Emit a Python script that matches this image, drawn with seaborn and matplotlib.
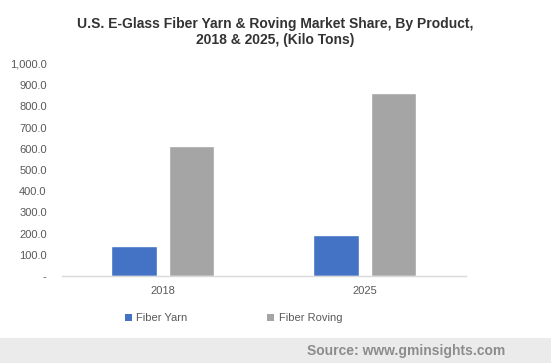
import pandas as pd
import matplotlib.pyplot as plt
import seaborn as sns
from matplotlib.patches import Patch, Rectangle

# values (kilo tons)
years = ['2018', '2025']
products = ['Fiber Yarn', 'Fiber Roving']
fiber_yarn = [140, 193]
fiber_roving = [613, 865]
colors = ['#4472C4', '#A5A5A5']

df = pd.DataFrame({
    'year': years * 2,
    'product': [products[0]] * 2 + [products[1]] * 2,
    'value': fiber_yarn + fiber_roving,
})

sns.set_style('white')
plt.rcParams['font.family'] = ['Liberation Sans', 'DejaVu Sans']

fig = plt.figure(figsize=(5.51, 3.63), dpi=100)
ax = fig.add_axes([0.1125, 0.2397, 0.7332, 0.584])

sns.barplot(data=df, x='year', y='value', hue='product', order=years,
            hue_order=products, palette=colors, width=0.574, gap=0.223,
            saturation=1, ax=ax, legend=False)

ax.set_ylim(0, 1000)
ax.set_xlim(-0.5, 1.5)
ax.set_yticks(range(0, 1001, 100))
ax.set_yticklabels(['-'] + [f'{v:,.1f}' for v in range(100, 1001, 100)])
ax.set_xlabel('')
ax.set_ylabel('')
ax.tick_params(axis='y', length=0, pad=11, labelsize=8, labelcolor='#595959')
ax.tick_params(axis='x', length=0, pad=7, labelsize=8, labelcolor='#595959')
for s in ['top', 'right', 'left']:
    ax.spines[s].set_visible(False)
ax.spines['bottom'].set_color('#d9d9d9')
ax.spines['bottom'].set_linewidth(1)

fig.text(0.5, 0.912, 'U.S. E-Glass Fiber Yarn & Roving Market Share, By Product,\n2018 & 2025, (Kilo Tons)',
         ha='center', va='center', fontsize=10, fontweight='bold', color='#333333',
         linespacing=1.2)

handles = [Patch(facecolor=c, edgecolor='none') for c in colors]
fig.legend(handles, products, loc='center', bbox_to_anchor=(0.424, 0.124), ncol=2,
           frameon=False, fontsize=8, labelcolor='#595959', handlelength=0.6,
           handleheight=0.6, handletextpad=0.4, columnspacing=7.2)

# source band at the bottom
fig.patches.append(Rectangle((0, 0), 1, 0.07, transform=fig.transFigure,
                             facecolor='#ebebeb', edgecolor='none', zorder=0))
fig.text(0.917, 0.033, 'Source: www.gminsights.com', ha='right', va='center',
         fontsize=10, fontweight='bold', color='#8c8c8c')

fig.savefig('out.png', dpi=100)
